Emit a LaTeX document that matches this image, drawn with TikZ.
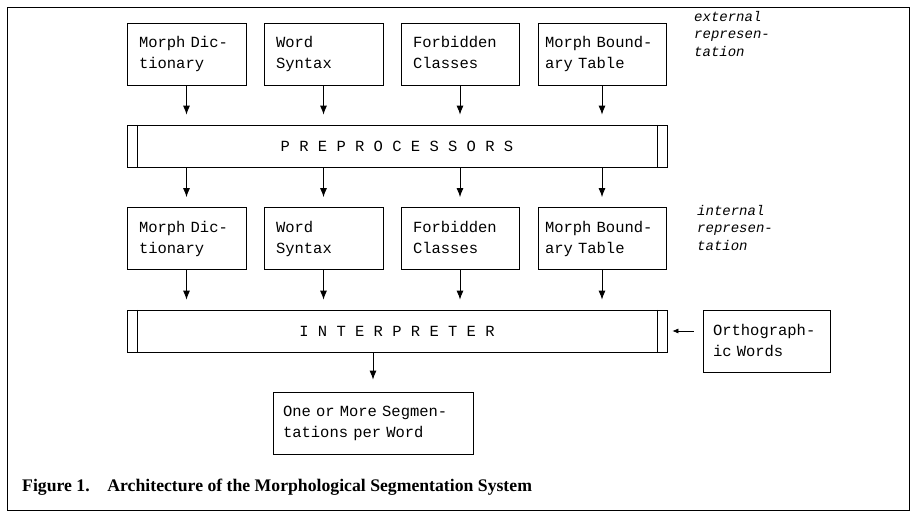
\documentclass[tikz,border=0pt]{standalone}
\usepackage{fontspec}
\setmainfont{Liberation Serif}
\setmonofont{Liberation Mono}
\usetikzlibrary{arrows.meta}

\begin{document}
\begin{tikzpicture}[x=1pt,y=-1pt]
  \tikzstyle{every node}=[font=\ttfamily\fontsize{15.5}{21}\selectfont]
  \tikzstyle{mbox}=[draw, line width=0.7pt, align=left, inner xsep=12pt, minimum height=62pt, text width=95pt,
    execute at begin node=\strut, execute at end node=\strut]
  \tikzstyle{bar}=[draw, line width=0.7pt, minimum width=540pt, minimum height=42pt,
    path picture={
      \draw[line width=0.7pt] ([xshift=10pt]path picture bounding box.north west) -- ([xshift=10pt]path picture bounding box.south west);
      \draw[line width=0.7pt] ([xshift=-10pt]path picture bounding box.north east) -- ([xshift=-10pt]path picture bounding box.south east);}]
  \tikzstyle{feed}=[-{Latex[length=9pt,width=7pt]}, line width=0.9pt, shorten >=10pt]
  \tikzstyle{side}=[font=\ttfamily\itshape\fontsize{14}{17.5}\selectfont, align=left, anchor=north west, inner sep=0pt]
  \useasboundingbox (0,0) rectangle (911,513);
  \draw[line width=1pt] (7,8) rectangle (909,510);

  % external representation
  \node[mbox] (extdict) at (186.5,54) {Morph Dic-\\tionary};
  \node[mbox] (extsyn) at (323.5,54) {Word\\Syntax};
  \node[mbox, text width=94pt] (extforb) at (460,54) {Forbidden\\Classes};
  \node[mbox, inner xsep=7pt, text width=114pt] (extbound) at (602,54) {Morph Bound-\\ary Table};
  \node[side] (extlab) at (694,11) {external\\represen-\\tation};

  \node[bar] (pre) at (397,146) {P R E P R O C E S S O R S};

  % internal representation
  \node[mbox] (intdict) at (186.5,238.5) {Morph Dic-\\tionary};
  \node[mbox] (intsyn) at (323.5,238.5) {Word\\Syntax};
  \node[mbox, text width=94pt] (intforb) at (460,238.5) {Forbidden\\Classes};
  \node[mbox, inner xsep=7pt, text width=114pt] (intbound) at (602,238.5) {Morph Bound-\\ary Table};
  \node[side] (intlab) at (697,205) {internal\\represen-\\tation};

  \node[bar] (interp) at (397,331) {I N T E R P R E T E R};
  \node[mbox, inner xsep=10pt, text width=107pt] (ortho) at (766.5,341.5) {Orthograph-\\ic Words};
  \node[mbox, inner xsep=10pt, text width=180pt] (seg) at (373,423) {One or More Segmen-\\tations per Word};

  \foreach \b in {dict,syn,forb,bound}{
    \draw[feed] (ext\b.south) -- (ext\b.south |- pre.north);
    \draw[feed] (ext\b.south |- pre.south) -- (int\b.north);
    \draw[feed] (int\b.south) -- (int\b.south |- interp.north);
  }
  \draw[feed, shorten >=12pt] (seg.north |- interp.south) -- (seg.north);
  \draw[-{Latex[length=6pt,width=5pt]}, line width=0.7pt, shorten <=9pt, shorten >=5pt] (ortho.west |- interp.east) -- (interp.east);

  \node[font=\bfseries\fontsize{17.7}{20}\selectfont, anchor=base west, inner sep=0pt] (caption) at (22,491)
    {Figure 1.\quad Architecture of the Morphological Segmentation System};
\end{tikzpicture}
\end{document}
